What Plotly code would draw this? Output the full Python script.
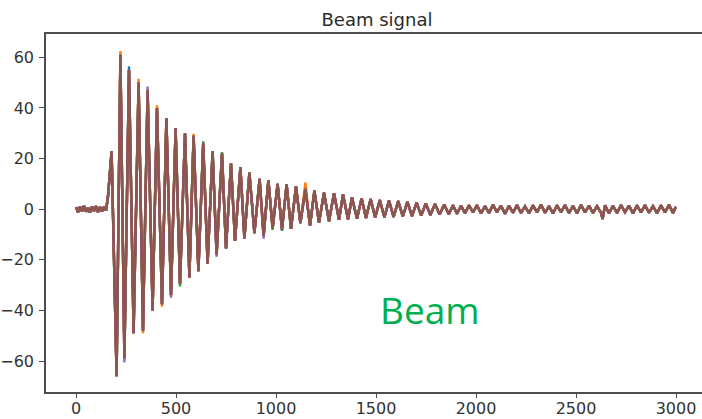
import plotly.graph_objects as go

# sample index of each turning point
sample_x = [
    0, 10, 20, 30, 40, 50, 60, 70, 80, 90, 100, 110, 120, 130, 140, 150,
    160, 178, 203, 222, 242, 265, 288, 313, 335, 358, 383, 405, 430, 452,
    475, 498, 520, 545, 567, 588, 612, 636, 658, 683, 703, 730, 750, 775,
    795, 822, 842, 867, 892, 918, 938, 962, 983, 1008, 1030, 1053, 1075,
    1100, 1122, 1147, 1170, 1192, 1215, 1240, 1265, 1290, 1315, 1335, 1360,
    1380, 1405, 1428, 1450, 1473, 1496, 1519, 1542, 1565, 1588, 1611, 1634,
    1657, 1680, 1703, 1726, 1749, 1772, 1795, 1818, 1841, 1864,
    1885, 1905, 1925, 1945, 1965, 1985, 2005, 2025, 2045, 2065, 2085, 2105,
    2125, 2145, 2165, 2185, 2205, 2225, 2245, 2265, 2285, 2305, 2325, 2345,
    2365, 2385, 2405, 2425, 2445, 2465, 2485, 2505, 2525, 2545, 2565, 2585,
    2605, 2625, 2633, 2645, 2665, 2685, 2705, 2725, 2745, 2765, 2785, 2805,
    2825, 2845, 2865, 2885, 2905, 2925, 2945, 2965, 2985, 2999,
]

# signal value at those points (the top, brown trace)
signal_y = [
    0.8, -1.2, 1.0, -0.8, 1.3, -1.0, 0.6, -1.3, 1.1, -0.7, 1.2, -1.1, 0.9, -0.9, 1.0, -0.5,
    5, 23, -66, 61, -59, 55, -49, 50, -48, 47, -40, 40, -37.5, 36,
    -34, 32, -29.5, 30, -27, 29, -24.5, 26, -21.5, 23, -18, 22, -15.5, 18,
    -12.5, 16.5, -11.5, 14.5, -9.5, 12, -10.5, 11.5, -7.5, 10, -8, 9.8, -7.8,
    9, -5.5, 8, -6.5, 7.3, -5.3, 6.5, -4.8, 6.3, -4.2, 5.8, -4,
    4.6, -3.8, 4.3, -3.5, 4.0, -3.3, 3.6, -3.2, 3.4, -3.0, 3.2, -2.8,
    2.9, -2.7, 2.6, -2.5, 2.3, -2.3, 2.1, -2.1, 1.9, -2.0,
    1.6, -1.8, 1.4, -1.6, 1.5, -1.3, 1.6, -1.7, 1.2, -1.5, 1.7, -1.2,
    1.4, -1.8, 1.3, -1.4, 1.6, -1.5, 1.1, -1.6, 1.5, -1.3, 1.8, -1.4,
    1.2, -1.7, 1.5, -1.2, 1.6, -1.5, 1.3, -1.6, 1.7, -1.3, 1.4, -1.5,
    1.2, -1.4, -3.9, 1.5, -1.6, 1.3, -1.5, 1.6, -1.2, 1.4, -1.7, 1.5,
    -1.3, 1.6, -1.4, 1.2, -1.6, 1.5, -1.3, 1.7, -1.5, 1.0,
]

# where the traces drawn underneath poke out past the brown one
tips_blue = {265: 56.5, 1030: -8.6}
tips_orange = {222: 62.5, 313: 51.5, 335: -49, 405: 41, 430: -38.5, 588: 29.8, 1147: 10.5}
tips_green = {520: -30.5, 636: 26.8, 730: 22.6, 983: -8.2}
tips_red = {}
tips_purple = {242: -60.5, 358: 48.5, 475: -35, 938: -11.6, 703: -18.8}

series = [
    ("#1f77b4", tips_blue),
    ("#ff7f0e", tips_orange),
    ("#2ca02c", tips_green),
    ("#d62728", tips_red),
    ("#9467bd", tips_purple),
    ("#8c564b", {}),
]

fig = go.Figure()
for color, tips in series:
    ys = [tips.get(x, y) for x, y in zip(sample_x, signal_y)]
    fig.add_trace(go.Scatter(
        x=sample_x, y=ys, mode="lines",
        line=dict(color=color, width=2.4),
        showlegend=False, hoverinfo="skip",
    ))

axis_font = dict(family="DejaVu Sans", size=16, color="#333333")
fig.update_layout(
    width=702, height=419,
    margin=dict(l=46, r=0, t=33.5, b=27.3),
    paper_bgcolor="white", plot_bgcolor="white",
    title=dict(text="Beam signal", x=0.537, xanchor="center", xref="container",
               y=0.952, yanchor="middle", yref="container",
               font=dict(family="DejaVu Sans", size=18, color="#2a2a2a")),
    xaxis=dict(range=[-150, 3130], tickvals=[0, 500, 1000, 1500, 2000, 2500, 3000],
               showgrid=False, zeroline=False, showline=True, mirror=True,
               linecolor="#4d4d4d", linewidth=1.5, ticks="outside", ticklen=4,
               tickcolor="#4d4d4d", tickfont=axis_font, automargin=False,
               ticklabelstandoff=-3),
    yaxis=dict(range=[-72.2, 69.2], tickvals=[-60, -40, -20, 0, 20, 40, 60],
               showgrid=False, zeroline=False, showline=True, mirror=False,
               linecolor="#4d4d4d", linewidth=1.5, ticks="outside", ticklen=5,
               tickcolor="#4d4d4d", tickfont=axis_font, automargin=False,
               ticklabelstandoff=2),
    annotations=[dict(text="Beam", x=1770, y=-39.5, xref="x", yref="y",
                      showarrow=False, font=dict(family="Open Sans", size=37, color="#00b050"))],
)

# drop the page's default body margin so the figure sits at the window's corner
fig.write_html("out.html", config={"displayModeBar": False},
               post_script="document.body.style.margin = '0';")
